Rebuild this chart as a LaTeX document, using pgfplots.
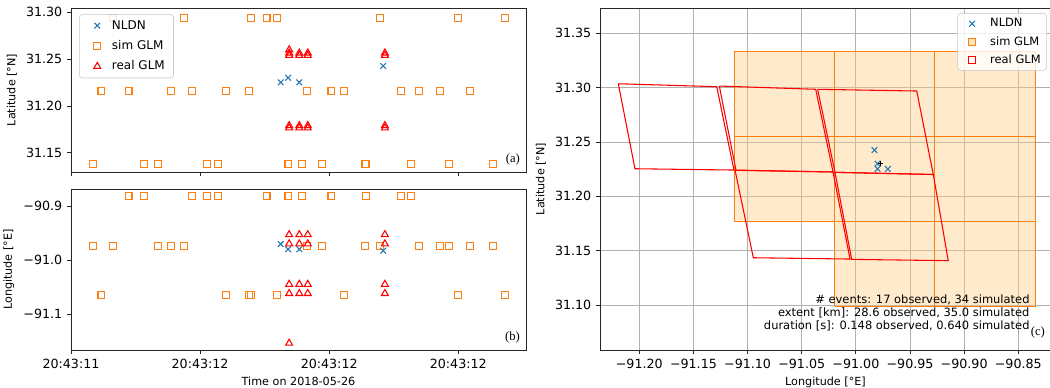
\documentclass[border=0pt]{standalone}
\usepackage{pgfplots}
\pgfplotsset{compat=1.18}
\usepackage{pgfplotstable}
\usepackage{fontspec}
\setmainfont{DejaVu Sans}
\newfontfamily\serifx{Liberation Serif}
\definecolor{tabblue}{HTML}{1F77B4}
\definecolor{taborange}{HTML}{FF7F0E}
\definecolor{simfill}{HTML}{FFCC80}
\definecolor{gridgray}{HTML}{B0B0B0}

\pgfplotstableread{
t lat lon
0.0341 31.1375 -90.9735
0.0472 31.2159 -91.0654
0.0655 31.2943 -90.9735
0.0891 31.2159 -90.8815
0.1137 31.1375 -90.8815
0.1352 31.1375 -90.9735
0.1546 31.2159 -90.9735
0.1755 31.2943 -90.9735
0.1876 31.2159 -90.8815
0.2112 31.1375 -90.8815
0.2279 31.1375 -90.8815
0.2395 31.2159 -91.0654
0.2751 31.2159 -91.0654
0.2788 31.2943 -91.0654
0.3029 31.2943 -90.8815
0.3196 31.2943 -91.0654
0.3369 31.1375 -90.8815
0.3574 31.1375 -90.8815
0.3658 31.2159 -90.9735
0.3893 31.1375 -90.9735
0.4035 31.2159 -90.8815
0.4234 31.2159 -91.0654
0.4548 31.1375 -90.9735
0.4569 31.1375 -90.8815
0.4784 31.2943 -90.9735
0.5109 31.2159 -90.8815
0.5266 31.1375 -90.8815
0.5387 31.2159 -90.9735
0.5722 31.2159 -90.9735
0.5858 31.1375 -90.9735
0.6000 31.2943 -91.0654
0.6183 31.2159 -90.9735
0.6534 31.1375 -90.9735
0.6718 31.2943 -91.0654
}\simglm

\pgfplotstableread{
t lat lon
0.3249 31.2252 -90.9704
0.3364 31.2301 -90.9800
0.3537 31.2252 -90.9800
0.4836 31.2426 -90.9828
}\nldn

\pgfplotstableread{
t lat lon
0.3380 31.2600 -91.154
0.3380 31.2565 -91.062
0.3380 31.2540 -90.970
0.3380 31.1790 -91.045
0.3380 31.1765 -90.953
0.3537 31.2565 -91.062
0.3537 31.2540 -90.970
0.3537 31.1790 -91.045
0.3537 31.1765 -90.953
0.3668 31.2565 -91.062
0.3668 31.2540 -90.970
0.3668 31.1790 -91.045
0.3668 31.1765 -90.953
0.4863 31.2565 -91.062
0.4863 31.2540 -90.970
0.4863 31.1790 -91.045
0.4863 31.1765 -90.953
}\realglm

\pgfplotsset{
  mpl/.style={
    scale only axis,
    axis line style={black!85, line width=0.6pt},
    tick align=outside,
    xtick pos=left, ytick pos=left,
    major tick length=3pt,
    every tick/.style={black!85, line width=0.6pt},
    tick label style={font=\fontsize{9.5}{11}\selectfont},
    label style={font=\fontsize{8.4}{10}\selectfont},
    legend cell align=left,
  },
  nldnstyle/.style={only marks, mark=x, mark size=3pt, tabblue, mark options={line width=0.8pt}},
  simstyle/.style={only marks, mark=square, mark size=2.6pt, taborange, mark options={line width=0.8pt, fill=none}},
  realstyle/.style={only marks, mark=triangle, mark size=3pt, red, mark options={line width=0.8pt, fill=none}},
  markleg/.style={legend image code/.code={\path[draw=none, fill=none] (0pt,0pt) -- (18pt,0pt);
      \draw[sharp corners, ##1] plot coordinates {(9pt,0pt)};}},
  cmarkleg/.style={legend image code/.code={\path[draw=none, fill=none] (0pt,0pt) -- (20pt,0pt);
      \draw[sharp corners, ##1] plot coordinates {(8.5pt,0pt)};}},
  simleg/.style={legend image code/.code={\path[draw=none, fill=none] (0pt,0pt) -- (20pt,0pt);
      \draw[sharp corners, taborange, line width=0.6pt, fill=simfill!60] (5.9pt,-2.6pt) rectangle (11.1pt,2.6pt);}},
  realleg/.style={legend image code/.code={\path[draw=none, fill=none] (0pt,0pt) -- (20pt,0pt);
      \draw[sharp corners, red, line width=0.6pt, fill=white] (5.9pt,-2.6pt) rectangle (11.1pt,2.6pt);}},
}

\newcommand{\simpix}[4]{\addplot[forget plot, mark=none, draw=taborange, line width=0.7pt, fill=simfill, fill opacity=0.4] coordinates {(#1,#3) (#2,#3) (#2,#4) (#1,#4) (#1,#3)};}

\begin{document}
\begin{tikzpicture}
\useasboundingbox (0,0) rectangle (787.5pt,-290.25pt);

% ---------- (a) ----------
\begin{axis}[mpl,
  at={(53.25pt,-6pt)}, anchor=north west,
  width=341.25pt, height=123pt,
  xmin=0, xmax=0.7049, ymin=31.1294, ymax=31.3046,
  xtick={0,0.2,0.4,0.6}, xticklabels={,,,},
  ytick={31.15,31.20,31.25,31.30},
  yticklabels={31.15,31.20,31.25,31.30},
  ylabel={Latitude [°N]},
  legend style={at={(0.0176,0.963)}, anchor=north west, draw=gray!45, rounded corners=2.5pt,
    fill=white, fill opacity=0.8, text opacity=1, font=\fontsize{9}{10}\selectfont,
    inner xsep=4.5pt, inner ysep=2.5pt, row sep=3pt},
]
\addplot[nldnstyle, markleg] table[x=t, y=lat] {\nldn};
\addlegendentry{NLDN}
\addplot[simstyle, markleg] table[x=t, y=lat] {\simglm};
\addlegendentry{sim GLM}
\addplot[realstyle, markleg] table[x=t, y=lat] {\realglm};
\addlegendentry{real GLM}
\node[anchor=south east, inner sep=1pt, font=\serifx\fontsize{9.5}{10}\selectfont] at (rel axis cs:0.99,0.03) {(a)};
\end{axis}

% ---------- (b) ----------
\begin{axis}[mpl,
  at={(53.25pt,-141.75pt)}, anchor=north west,
  width=341.25pt, height=120.75pt,
  xmin=0, xmax=0.7049, ymin=-91.1667, ymax=-90.8685,
  xtick={0,0.2,0.4,0.6}, xticklabels={20:43:11,20:43:12,20:43:12,20:43:12},
  ytick={-91.1,-91.0,-90.9},
  yticklabels={−91.1,−91.0,−90.9},
  ylabel={Longitude [°E]},
  xlabel={Time on 2018-05-26},
]
\addplot[simstyle] table[x=t, y=lon] {\simglm};
\addplot[nldnstyle] table[x=t, y=lon] {\nldn};
\addplot[realstyle] table[x=t, y=lon] {\realglm};
\node[anchor=south east, inner sep=1pt, font=\serifx\fontsize{9.5}{10}\selectfont] at (rel axis cs:0.99,0.03) {(b)};
\end{axis}

% ---------- (c) ----------
\begin{axis}[mpl,
  at={(450pt,-6pt)}, anchor=north west,
  width=338.25pt, height=256.5pt,
  xmin=-91.2363, xmax=-90.8198, ymin=31.0586, ymax=31.3733,
  xtick={-91.20,-91.15,-91.10,-91.05,-91.00,-90.95,-90.90,-90.85},
  xticklabels={−91.20,−91.15,−91.10,−91.05,−91.00,−90.95,−90.90,−90.85},
  ytick={31.10,31.15,31.20,31.25,31.30,31.35},
  yticklabels={31.10,31.15,31.20,31.25,31.30,31.35},
  grid=major, major grid style={gridgray, line width=0.7pt},
  ylabel={Latitude [°N]},
  xlabel={Longitude [°E]},
  legend style={at={(0.9911,0.9854)}, anchor=north east, draw=gray!45, rounded corners=2.5pt,
    fill=white, fill opacity=0.8, text opacity=1, font=\fontsize{8.6}{10}\selectfont,
    inner xsep=2.5pt, inner ysep=2pt, row sep=1.5pt},
]
\addlegendimage{nldnstyle, cmarkleg}
\addlegendimage{simleg}
\addlegendimage{realleg}
\legend{NLDN, sim GLM, real GLM}
% simulated GLM pixels
\simpix{-91.112}{-91.0195}{31.255}{31.3337}
\simpix{-91.112}{-91.0195}{31.1767}{31.255}
\simpix{-91.0195}{-90.927}{31.255}{31.3337}
\simpix{-91.0195}{-90.927}{31.1767}{31.255}
\simpix{-91.0195}{-90.927}{31.0991}{31.1767}
\simpix{-90.927}{-90.834}{31.255}{31.3337}
\simpix{-90.927}{-90.834}{31.1767}{31.255}
\simpix{-90.927}{-90.834}{31.0991}{31.1767}
% real GLM pixels
\addplot[forget plot, mark=none, red, line width=0.8pt] coordinates {(-91.2194,31.3036) (-91.1285,31.3009) (-91.1126,31.2242) (-91.2040,31.2254) (-91.2194,31.3036)};
\addplot[forget plot, mark=none, red, line width=0.8pt] coordinates {(-91.1261,31.3015) (-91.0371,31.2985) (-91.0211,31.2224) (-91.1107,31.2239) (-91.1261,31.3015)};
\addplot[forget plot, mark=none, red, line width=0.8pt] coordinates {(-91.0353,31.2985) (-90.9438,31.2969) (-90.9285,31.2201) (-91.0193,31.2221) (-91.0353,31.2985)};
\addplot[forget plot, mark=none, red, line width=0.8pt] coordinates {(-91.1116,31.2242) (-91.0211,31.2224) (-91.0054,31.1423) (-91.0947,31.1435) (-91.1116,31.2242)};
\addplot[forget plot, mark=none, red, line width=0.8pt] coordinates {(-91.0193,31.2221) (-90.9285,31.2201) (-90.9147,31.1408) (-91.0039,31.1420) (-91.0193,31.2221)};
% NLDN strokes
\addplot[forget plot, nldnstyle] table[x=lon, y=lat] {\nldn};
\addplot[forget plot, only marks, mark=+, black, mark size=2pt, mark options={line width=0.6pt}] coordinates {(-90.977,31.2305)};
\node[anchor=south east, align=right, inner sep=0pt, font=\fontsize{8.6}{9.75}\selectfont] at (rel axis cs:0.953,0.056)
  {\# events: 17 observed, 34 simulated\\extent [km]: 28.6 observed, 35.0 simulated\\duration [s]: 0.148 observed, 0.640 simulated};
\node[anchor=south east, inner sep=1pt, font=\serifx\fontsize{9.5}{10}\selectfont] at (rel axis cs:0.99,0.03) {(c)};
\end{axis}
\end{tikzpicture}
\end{document}
